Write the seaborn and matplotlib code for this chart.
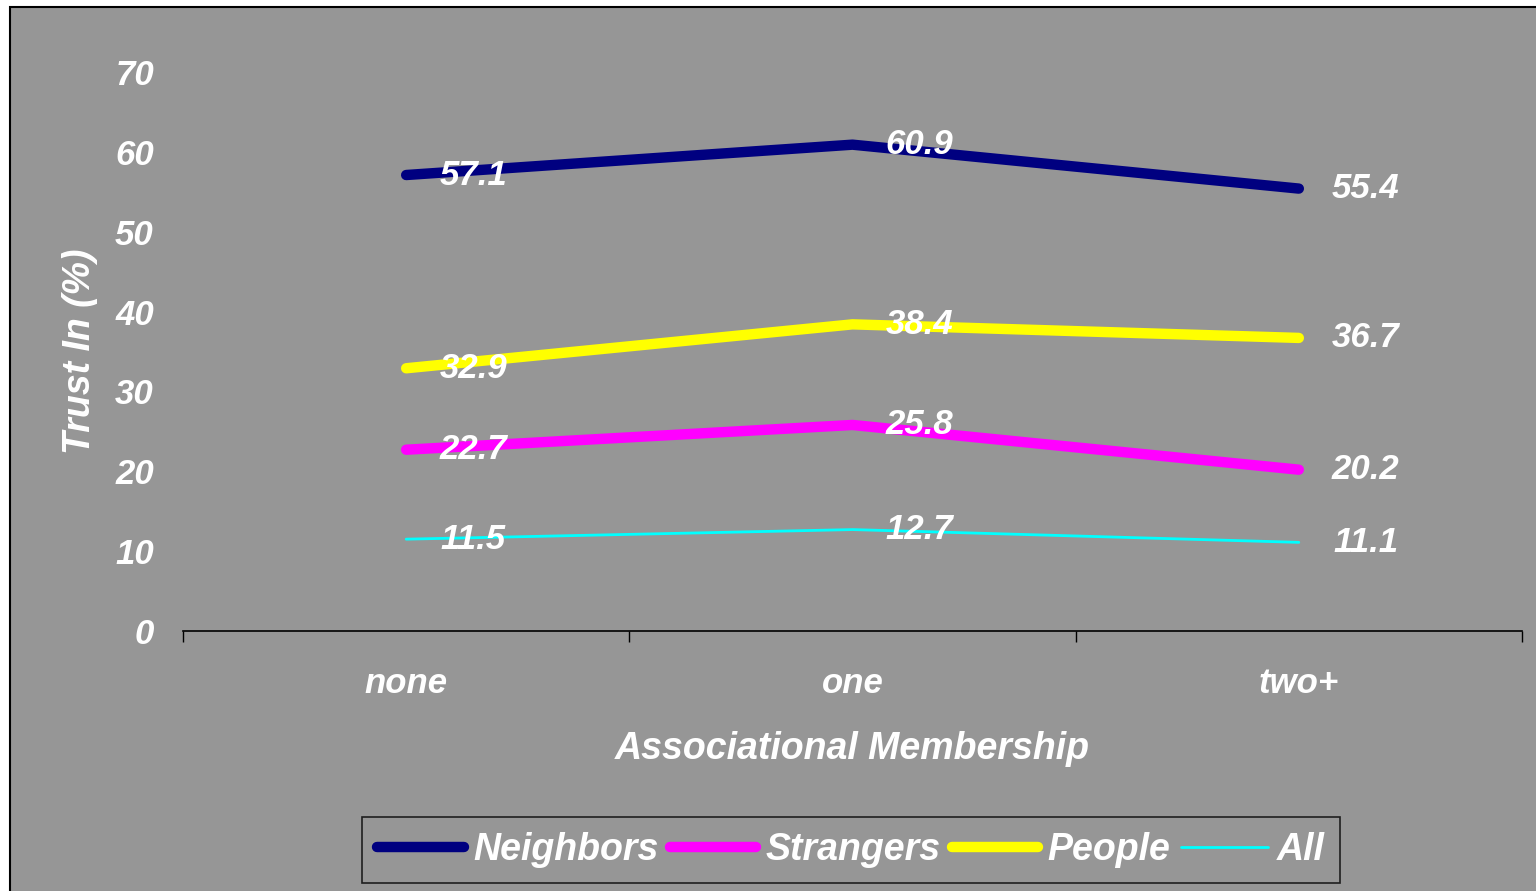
import matplotlib
matplotlib.use("Agg")
import matplotlib.pyplot as plt
import matplotlib.patches as patches
import seaborn as sns
import pandas as pd

# data
categories = ["none", "one", "two+"]
neighbors = [57.1, 60.9, 55.4]
strangers = [22.7, 25.8, 20.2]
people = [32.9, 38.4, 36.7]
all_ = [11.5, 12.7, 11.1]

series_names = ["Neighbors", "Strangers", "People", "All"]
series_values = [neighbors, strangers, people, all_]
colors = ["#000080", "#FF00FF", "#FFFF00", "#00FFFF"]
widths = [7.5, 7.5, 7.5, 2]

BG = "#969696"
sns.set_theme(style="white")
plt.rcParams["font.family"] = ["Liberation Sans", "DejaVu Sans"]

fig = plt.figure(figsize=(15.36, 8.91), dpi=100, facecolor="white")
# grey chart area with black frame (cropped on right/bottom)
fig.patches.append(patches.Rectangle((10 / 1536, -0.1), 1.2, 1 - 7 / 891 + 0.1,
                                     transform=fig.transFigure, facecolor=BG,
                                     edgecolor="black", linewidth=1.5, zorder=-10))

ax = fig.add_axes([183 / 1536, 1 - 631 / 891, (1522 - 183) / 1536, (631 - 72) / 891])
ax.set_facecolor(BG)
ax.patch.set_alpha(0)

# ============================================================
# LINES
# ============================================================
for name, vals, col, lw in zip(series_names, series_values, colors, widths):
    df = pd.DataFrame({"cat": categories, "val": vals})
    sns.lineplot(data=df, x="cat", y="val", color=col, linewidth=lw,
                 label=name, ax=ax, solid_capstyle="round", sort=False)
    for i, v in enumerate(vals):
        ax.annotate(f"{v}", (i, v), xytext=(67, 0), textcoords="offset pixels",
                    ha="center", va="center", color="white", fontsize=25,
                    fontweight="bold", fontstyle="italic")

ax.set_xlim(-0.5, 2.5)
ax.set_ylim(0, 70)
ax.set_yticks(range(0, 71, 10))

lbl = dict(color="white", fontsize=25, fontweight="bold", fontstyle="italic")
ax.set_yticklabels([str(t) for t in range(0, 71, 10)], **lbl)
ax.set_xticks(range(len(categories)))
ax.set_xticklabels(categories, **lbl)
ax.set_xticks([-0.5, 0.5, 1.5, 2.5], minor=True)
ax.tick_params(axis="x", which="major", length=0, pad=26)
ax.tick_params(axis="x", which="minor", length=8, width=1, color="black",
               direction="out", bottom=True)
ax.tick_params(axis="y", length=0, pad=21)

for s in ["top", "right", "left"]:
    ax.spines[s].set_visible(False)
ax.spines["bottom"].set_color("black")
ax.spines["bottom"].set_linewidth(1.2)

ax.set_xlabel("Associational Membership", color="white", fontsize=27,
              fontweight="bold", fontstyle="italic", labelpad=22)
ax.set_ylabel("Trust In (%)", color="white", fontsize=27,
              fontweight="bold", fontstyle="italic", labelpad=12)

leg = ax.legend(loc="center", bbox_to_anchor=(851 / 1536, 1 - 850 / 891),
                bbox_transform=fig.transFigure, ncol=4, frameon=True,
                fancybox=False, facecolor=BG, edgecolor="black",
                handlelength=2.3, handletextpad=0.25, columnspacing=0.3,
                borderpad=0.4, prop={"size": 27, "weight": "bold", "style": "italic"})
leg.get_frame().set_linewidth(1.2)
for t in leg.get_texts():
    t.set_color("white")

fig.savefig("out.png", dpi=100, facecolor="white")
